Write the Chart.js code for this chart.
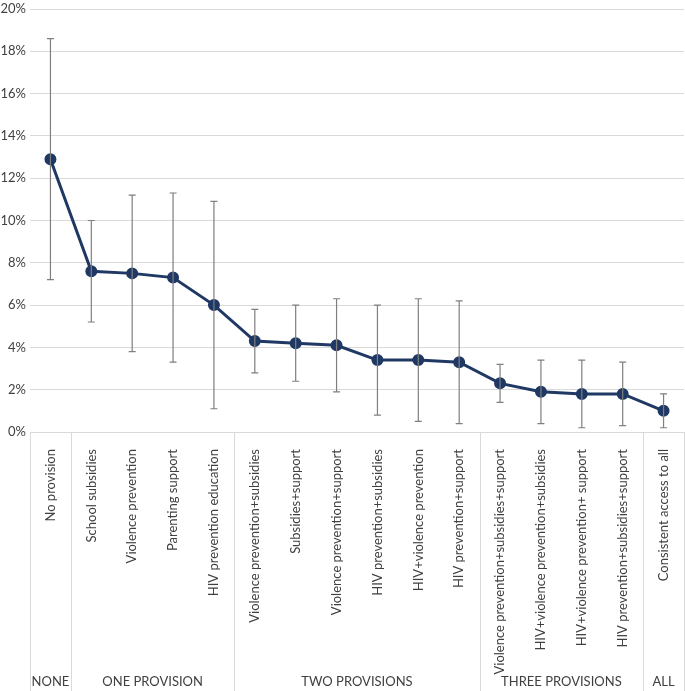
<!DOCTYPE html>
<html>
<head>
<meta charset="utf-8">
<script src="https://cdn.jsdelivr.net/npm/chart.js@4/dist/chart.umd.min.js"></script>
<style>
  html, body { margin: 0; padding: 0; background: #fff; overflow: hidden; }
  #provChart { display: block; }
</style>
</head>
<body>
<canvas id="provChart" width="685" height="691"></canvas>
<script>
// values (percent)
const categories = [
  "No provision",
  "School subsidies", "Violence prevention", "Parenting support", "HIV prevention education",
  "Violence prevention+subsidies", "Subsidies+support", "Violence prevention+support",
  "HIV prevention+subsidies", "HIV+violence prevention", "HIV prevention+support",
  "Violence prevention+subsidies+support", "HIV+violence prevention+subsidies",
  "HIV+violence prevention+ support", "HIV prevention+subsidies+support",
  "Consistent access to all"
];
const rates = [12.9, 7.6, 7.5, 7.3, 6.0, 4.3, 4.2, 4.1, 3.4, 3.4, 3.3, 2.3, 1.9, 1.8, 1.8, 1.0];
const lower = [7.2, 5.2, 3.8, 3.3, 1.1, 2.8, 2.4, 1.9, 0.8, 0.5, 0.4, 1.4, 0.4, 0.2, 0.3, 0.2];
const upper = [18.6, 10.0, 11.2, 11.3, 10.9, 5.8, 6.0, 6.3, 6.0, 6.3, 6.2, 3.2, 3.4, 3.4, 3.3, 1.8];

const groupNames = ["NONE", "ONE PROVISION", "TWO PROVISIONS", "THREE PROVISIONS", "ALL"];
const groupSizes = [1, 4, 6, 4, 1];

const FONT = "Lato, sans-serif";
const TEXT = "#404040";
const GRID = "#d9d9d9";

// error bars from lower/upper
const errorBars = {
  id: "errorBars",
  afterDatasetsDraw(chart) {
    const { ctx, scales: { x, y } } = chart;
    ctx.save();
    ctx.strokeStyle = "#7f7f7f";
    ctx.lineWidth = 1.2;
    rates.forEach((v, i) => {
      const px = x.getPixelForValue(i);
      const top = y.getPixelForValue(upper[i]);
      const bot = y.getPixelForValue(lower[i]);
      ctx.beginPath();
      ctx.moveTo(px, top); ctx.lineTo(px, bot);
      ctx.moveTo(px - 3.5, top); ctx.lineTo(px + 3.5, top);
      ctx.moveTo(px - 3.5, bot); ctx.lineTo(px + 3.5, bot);
      ctx.stroke();
    });
    ctx.restore();
  }
};

// group separators and group names under the axis
const groupAxis = {
  id: "groupAxis",
  afterDraw(chart) {
    const { ctx, scales: { x }, chartArea } = chart;
    const bottom = chart.height;
    ctx.save();
    ctx.strokeStyle = GRID;
    ctx.lineWidth = 1;
    ctx.fillStyle = TEXT;
    ctx.font = "13px " + FONT;
    ctx.textAlign = "center";
    ctx.textBaseline = "middle";
    let start = 0;
    const edge = i => Math.round(x.getPixelForValue(i - 0.5)) + 0.5;
    ctx.beginPath();
    ctx.moveTo(edge(0), chartArea.bottom); ctx.lineTo(edge(0), bottom);
    groupSizes.forEach((n, g) => {
      const end = start + n;
      const xr = Math.min(edge(end), chart.width - 0.5);
      ctx.moveTo(xr, chartArea.bottom); ctx.lineTo(xr, bottom);
      const mid = (x.getPixelForValue(start - 0.5) + x.getPixelForValue(end - 0.5)) / 2;
      ctx.fillText(groupNames[g], mid, bottom - 9);
      start = end;
    });
    ctx.stroke();
    ctx.restore();
  }
};

new Chart(document.getElementById("provChart"), {
  type: "line",
  data: {
    labels: categories,
    datasets: [{
      data: rates,
      borderColor: "#1f3864",
      backgroundColor: "#1f3864",
      borderWidth: 3,
      pointRadius: 4.5,
      pointHoverRadius: 4.5,
      fill: false,
      tension: 0
    }]
  },
  options: {
    responsive: false,
    animation: false,
    layout: { autoPadding: false, padding: { top: 9, right: 1, left: 0, bottom: 0 } },
    plugins: { legend: { display: false }, tooltip: { enabled: false } },
    scales: {
      x: {
        offset: true,
        grid: { display: false },
        border: { color: GRID },
        ticks: {
          maxRotation: 90, minRotation: 90, autoSkip: false,
          color: TEXT, font: { family: FONT, size: 13 }, padding: 9
        },
        afterFit(scale) {
          scale.height = 259;
          scale.paddingRight = 0;
        }
      },
      y: {
        min: 0, max: 20,
        grid: { color: GRID, drawTicks: false },
        border: { display: false },
        ticks: {
          stepSize: 2, padding: 4,
          color: TEXT, font: { family: FONT, size: 13 },
          callback: v => v + "%"
        },
        afterFit(scale) {
          scale.width = 30;
          scale.paddingTop = 0;
          scale.paddingBottom = 0;
        }
      }
    }
  },
  plugins: [errorBars, groupAxis]
});
</script>
</body>
</html>
